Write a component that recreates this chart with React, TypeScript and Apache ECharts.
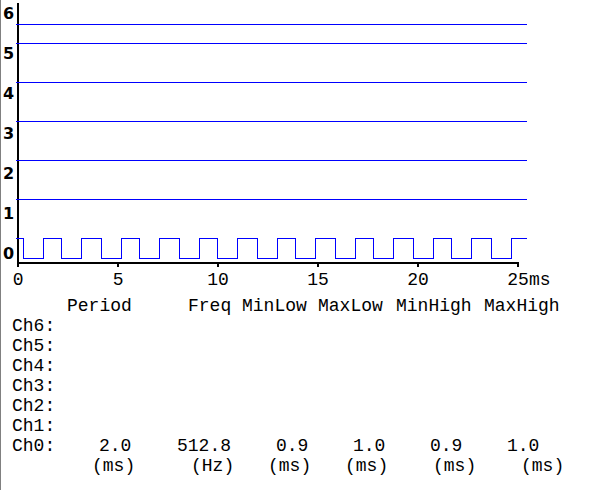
import React, { useEffect, useRef } from "react";
import * as echarts from "echarts";

// ---- data ----
const xTicks = [0, 5, 10, 15, 20, 25];
const yLabels = [0, 1, 2, 3, 4, 5, 6];
// Ch0 transition times (ms), starting high at t = 0
const ch0Edges = [
  0.36, 1.36, 2.26, 3.25, 4.25, 5.25, 6.14, 7.14, 8.14, 9.13, 10.03, 11.03, 12.02,
  13.02, 13.92, 14.91, 15.91, 16.91, 17.8, 18.8, 19.8, 20.79, 21.69, 22.69, 23.68, 24.68,
];
const ch0StartHigh = 1;
const sampleEnd = 25.46;
// constant states of Ch1..Ch6 (1 = high, 0 = low)
const otherChannelStates = [1, 1, 1, 1, 1, 0];
const channelNames = ["Ch6:", "Ch5:", "Ch4:", "Ch3:", "Ch2:", "Ch1:", "Ch0:"];
const columns = ["Period", "Freq", "MinLow", "MaxLow", "MinHigh", "MaxHigh"];
const ch0Values = ["2.0", "512.8", "0.9", "1.0", "0.9", "1.0"];
const units = ["(ms)", "(Hz)", "(ms)", "(ms)", "(ms)", "(ms)"];

// ---- layout ----
const headerX = [67, 188, 242, 318, 396, 484];
const valueX = [99, 177, 276, 353, 430, 507];
const unitX = [92, 191, 268, 345, 433, 521];
const MONO = "'Liberation Mono', 'Courier New', monospace";
const BLUE = "#0000ff";
const BAND_PX = 39;
const HIGH = 20 / BAND_PX; // high level offset within a channel band

function buildCh0() {
  const pts: number[][] = [];
  let high = ch0StartHigh;
  pts.push([0, high ? HIGH : 0]);
  for (const t of ch0Edges) {
    high = high ? 0 : 1;
    pts.push([t, high ? HIGH : 0]);
  }
  pts.push([sampleEnd, high ? HIGH : 0]);
  return pts;
}

export default function App() {
  const ref = useRef<HTMLDivElement>(null);
  useEffect(() => {
    if (!ref.current) return;
    const chart = echarts.init(ref.current, undefined, { renderer: "svg" });

    const series: any[] = [
      {
        type: "line",
        xAxisIndex: 1,
        yAxisIndex: 1,
        step: "end",
        showSymbol: false,
        silent: true,
        data: buildCh0(),
        lineStyle: { color: BLUE, width: 1 },
      },
    ];
    otherChannelStates.forEach((s, i) => {
      const ch = i + 1;
      const y = ch + (s ? HIGH : 0);
      series.push({
        type: "line",
        xAxisIndex: 1,
        yAxisIndex: 1,
        showSymbol: false,
        silent: true,
        data: [
          [0, y],
          [sampleEnd, y],
        ],
        lineStyle: { color: BLUE, width: 1 },
      });
    });

    const graphics: any[] = [
      { type: "rect", shape: { x: 0, y: 0, width: 1, height: 490 }, style: { fill: "#808080" } },
    ];
    const txt = (text: string, x: number, y: number) => ({
      type: "text",
      x,
      y,
      style: {
        text,
        fill: "#000",
        font: `18px ${MONO}`,
        textAlign: "left",
        textVerticalAlign: "middle",
      },
    });
    columns.forEach((c, i) => graphics.push(txt(c, headerX[i], 306)));
    channelNames.forEach((n, i) => graphics.push(txt(n, 12, 326 + i * 20)));
    ch0Values.forEach((v, i) => graphics.push(txt(v, valueX[i], 446)));
    units.forEach((u, i) => graphics.push(txt(u, unitX[i], 466)));

    chart.setOption({
      animation: false,
      backgroundColor: "#ffffff",
      grid: [
        { left: 16, top: 4, width: 502, height: 259 },
        { left: 16, top: 5, width: 512, height: 254 },
      ],
      xAxis: [
        {
          gridIndex: 0,
          type: "value",
          min: xTicks[0],
          max: xTicks[xTicks.length - 1],
          interval: 5,
          axisLine: { show: true, onZero: false, lineStyle: { color: "#000", width: 2 } },
          axisTick: { show: true, length: 4, lineStyle: { color: "#000", width: 2 } },
          splitLine: { show: false },
          axisLabel: { fontFamily: MONO, fontSize: 18, color: "#000", margin: 8 },
          name: "ms",
          nameLocation: "end",
          nameGap: 11,
          nameMoveOverlap: false,
          nameTextStyle: {
            fontFamily: MONO,
            fontSize: 18,
            color: "#000",
            verticalAlign: "top",
            padding: [8, 0, 0, 0],
          },
        },
        { gridIndex: 1, type: "value", min: 0, max: 25.5, show: false },
      ],
      yAxis: [
        {
          gridIndex: 0,
          type: "value",
          min: -0.251,
          max: 6.251,
          axisLine: { show: true, onZero: false, lineStyle: { color: "#000", width: 2 } },
          axisTick: { show: false },
          splitLine: { show: false },
          axisLabel: {
            customValues: yLabels,
            fontFamily: "'DejaVu Sans', sans-serif",
            fontWeight: "bold",
            fontSize: 16,
            color: "#000",
            margin: 4,
          },
        },
        { gridIndex: 1, type: "value", min: -0.5 / BAND_PX, max: 6.5, show: false },
      ],
      series,
      graphic: graphics,
    });
    return () => chart.dispose();
  }, []);
  return (
    <>
      <style>{`.la-chart svg path { shape-rendering: crispEdges; }`}</style>
      <div
        ref={ref}
        className="la-chart"
        style={{ position: "absolute", left: 0, top: 0, width: 590, height: 490 }}
      />
    </>
  );
}
